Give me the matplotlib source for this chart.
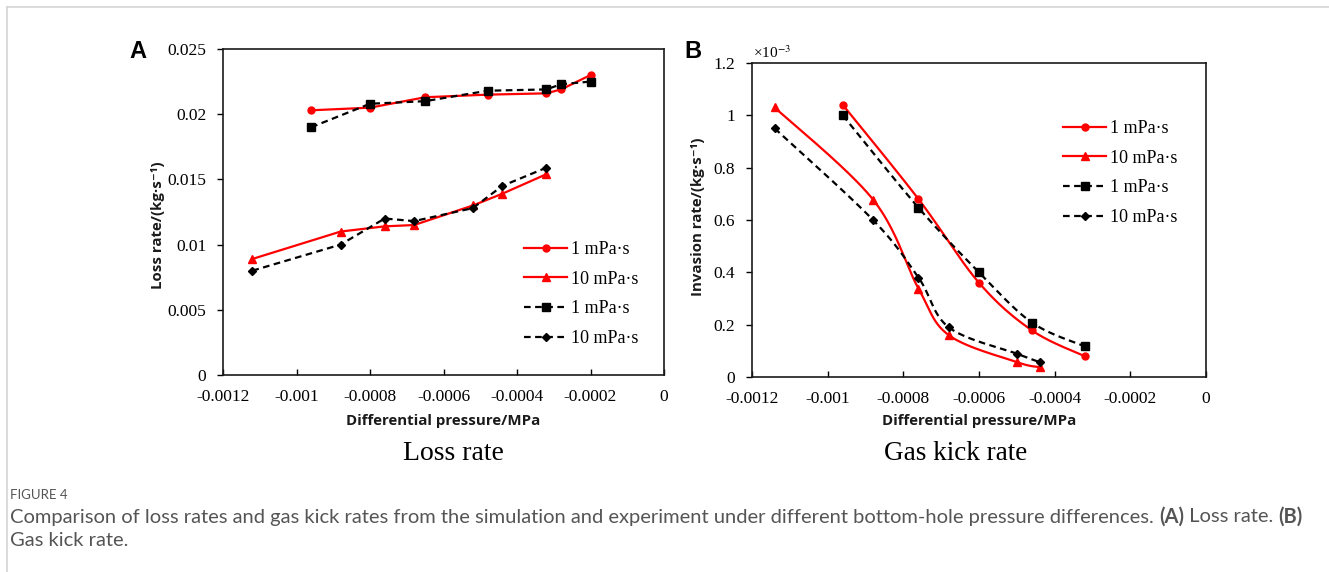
import numpy as np
import matplotlib.pyplot as plt
from matplotlib.lines import Line2D

SERIF = "Liberation Serif"
SANS = ["Open Sans", "DejaVu Sans"]

plt.rcParams["font.family"] = [SERIF, "DejaVu Serif"]
plt.rcParams["axes.unicode_minus"] = False
plt.rcParams["mathtext.fontset"] = "stix"

# ---- data: loss rate (panel A) ----
loss_p_hi = [-0.00096, -0.0008, -0.00065, -0.00048, -0.00032, -0.00028, -0.0002]
loss_sim_1 = [0.0203, 0.0205, 0.0213, 0.0215, 0.0216, 0.0219, 0.0230]
loss_exp_1 = [0.0190, 0.0208, 0.0210, 0.0218, 0.0219, 0.0223, 0.0225]

loss_p_lo = [-0.00112, -0.00088, -0.00076, -0.00068, -0.00052, -0.00044, -0.00032]
loss_sim_10 = [0.0089, 0.0110, 0.0114, 0.0115, 0.0130, 0.0139, 0.0154]
loss_exp_10 = [0.0080, 0.0100, 0.0120, 0.0118, 0.0128, 0.0145, 0.0159]

# ---- data: gas invasion rate (panel B), in 1e-3 kg/s ----
kick_p_1 = [-0.00096, -0.00076, -0.0006, -0.00046, -0.00032]
kick_sim_1 = [1.04, 0.68, 0.36, 0.178, 0.079]
kick_exp_1 = [1.00, 0.647, 0.40, 0.208, 0.117]

kick_p_10 = [-0.00114, -0.00088, -0.00076, -0.00068, -0.0005, -0.00044]
kick_sim_10 = [1.03, 0.678, 0.338, 0.16, 0.057, 0.038]
kick_exp_10 = [0.95, 0.60, 0.38, 0.19, 0.089, 0.057]

x_ticks = [-0.0012, -0.001, -0.0008, -0.0006, -0.0004, -0.0002, 0]
x_ticklabels = ["-0.0012", "-0.001", "-0.0008", "-0.0006", "-0.0004", "-0.0002", "0"]
a_yticks = [0, 0.005, 0.01, 0.015, 0.02, 0.025]
a_yticklabels = ["0", "0.005", "0.01", "0.015", "0.02", "0.025"]
b_yticks = [0, 0.2, 0.4, 0.6, 0.8, 1.0, 1.2]
b_yticklabels = ["0", "0.2", "0.4", "0.6", "0.8", "1", "1.2"]
legend_labels = ["1 mPa·s", "10 mPa·s", "1 mPa·s", "10 mPa·s"]

W, H = 1329, 572

fig = plt.figure(figsize=(W / 100, H / 100), dpi=100)

# light frame lines at the top and left edge
fig.add_artist(Line2D([7 / W, 1], [1 - 7 / H, 1 - 7 / H], color="#d4d4d4", lw=1.2))
fig.add_artist(Line2D([7 / W, 7 / W], [0, 1 - 7 / H], color="#d4d4d4", lw=1.2))

axA = fig.add_axes([223 / W, 197 / H, 441 / W, 326 / H])
axB = fig.add_axes([752 / W, 195 / H, 454 / W, 314 / H])

red_kw = dict(color="red", lw=1.6)
blk_kw = dict(color="black", lw=1.6, dashes=(3, 2))


def style_axis(ax, yticks, yticklabels, ylim):
    ax.set_xlim(-0.0012, 0)
    ax.set_ylim(*ylim)
    ax.set_xticks(x_ticks, x_ticklabels)
    ax.set_yticks(yticks, yticklabels)
    ax.tick_params(labelsize=12.5)
    ax.tick_params(axis="x", direction="in", length=4, width=1, pad=10)
    ax.tick_params(axis="y", direction="out", length=4, width=1, pad=8)
    for s in ax.spines.values():
        s.set_linewidth(1.2)
        s.set_color("#1a1a1a")


def smooth(ax, xs, ys, n=40):
    # Bezier smoothing through points, built in display space
    pts = ax.transData.transform(np.column_stack([xs, ys]))
    P = np.vstack([pts[0], pts, pts[-1]])
    out = [pts[0]]
    t = np.linspace(0, 1, n)[1:, None]
    for i in range(1, len(P) - 2):
        p0, p3 = P[i], P[i + 1]
        c1 = p0 + (P[i + 1] - P[i - 1]) / 6
        c2 = p3 - (P[i + 2] - P[i]) / 6
        seg = ((1 - t) ** 3) * p0 + 3 * ((1 - t) ** 2) * t * c1 + 3 * (1 - t) * t ** 2 * c2 + t ** 3 * p3
        out.extend(seg)
    out = ax.transData.inverted().transform(np.array(out))
    return out[:, 0], out[:, 1]


# ---- panel A ----
style_axis(axA, a_yticks, a_yticklabels, (0, 0.025))
axA.plot(loss_p_hi, loss_sim_1, marker="o", ms=5, **red_kw, zorder=3)
axA.plot(loss_p_lo, loss_sim_10, marker="^", ms=6, **red_kw, zorder=3)
axA.plot(loss_p_hi, loss_exp_1, marker="s", ms=6, **blk_kw, zorder=4)
axA.plot(loss_p_lo, loss_exp_10, marker="D", ms=4.5, **blk_kw, zorder=4)

# ---- panel B ----
style_axis(axB, b_yticks, b_yticklabels, (0, 1.2))
for xs, ys, mk, ms, kw in [
    (kick_p_1, kick_sim_1, "o", 5, red_kw),
    (kick_p_10, kick_sim_10, "^", 6, red_kw),
    (kick_p_1, kick_exp_1, "s", 6, blk_kw),
    (kick_p_10, kick_exp_10, "D", 4.5, blk_kw),
]:
    sx, sy = smooth(axB, xs, ys)
    axB.plot(sx, sy, **kw, zorder=3)
    axB.plot(xs, ys, ls="none", marker=mk, ms=ms, color=kw["color"], zorder=4)

fig.text(753 / W, 1 - 53 / H, r"×10$^{-3}$", fontsize=11, ha="left", va="center")

# legends
handles = [
    Line2D([0], [0], marker="o", ms=5, **red_kw),
    Line2D([0], [0], marker="^", ms=6, **red_kw),
    Line2D([0], [0], marker="s", ms=6, **blk_kw),
    Line2D([0], [0], marker="D", ms=4.5, **blk_kw),
]
for ax, (lx, ly) in [(axA, (515, 232)), (axB, (1054, 111))]:
    ax.legend(handles, legend_labels, loc="upper left",
              bbox_to_anchor=(lx / W, 1 - ly / H), bbox_transform=fig.transFigure,
              frameon=False, prop=dict(family=SERIF, size=13),
              handlelength=2.4, handletextpad=0.2, labelspacing=0.7, borderpad=0)

# axis labels
lab_kw = dict(fontfamily=SANS, fontsize=10.8, fontweight="bold", color="#1a1a1a")
axA.set_xlabel("Differential pressure/MPa", **lab_kw)
axA.xaxis.set_label_coords(0.5, -0.119)
axA.set_ylabel("Loss rate/(kg·s⁻¹)", **lab_kw)
axA.yaxis.set_label_coords(-0.131, 0.46)
axB.set_xlabel("Differential pressure/MPa", **lab_kw)
axB.xaxis.set_label_coords(0.5, -0.117)
axB.set_ylabel("Invasion rate/(kg·s⁻¹)", **lab_kw)
axB.yaxis.set_label_coords(-0.104, 0.51)

# panel letters and subtitles
fig.text(138 / W, 1 - 52 / H, "A", fontfamily="Liberation Sans", fontweight="bold",
         fontsize=17, ha="center", va="center")
fig.text(693 / W, 1 - 52 / H, "B", fontfamily="Liberation Sans", fontweight="bold",
         fontsize=17, ha="center", va="center")
fig.text(453 / W, 1 - 453 / H, "Loss rate", fontsize=20, ha="center", va="center")
fig.text(956 / W, 1 - 453 / H, "Gas kick rate", fontsize=19.5, ha="center", va="center")

# caption
cap_kw = dict(fontfamily="Lato", fontsize=14.5, color="#555555", va="center")
fig.text(10 / W, 1 - 495 / H, "FIGURE 4", fontfamily="Lato", fontsize=9.5,
         color="#555555", va="center")
renderer = fig.canvas.get_renderer()
x = 10
pieces = [
    ("Comparison of loss rates and gas kick rates from the simulation and experiment "
     "under different bottom-hole pressure differences. ", "normal"),
    ("(A)", "bold"),
    (" Loss rate. ", "normal"),
    ("(B)", "bold"),
]
for txt, wt in pieces:
    t = fig.text(x / W, 1 - 517 / H, txt, fontweight=wt, **cap_kw)
    x = t.get_window_extent(renderer).x1
fig.text(10 / W, 1 - 540 / H, "Gas kick rate.", **cap_kw)

fig.savefig("out.png", dpi=100)
